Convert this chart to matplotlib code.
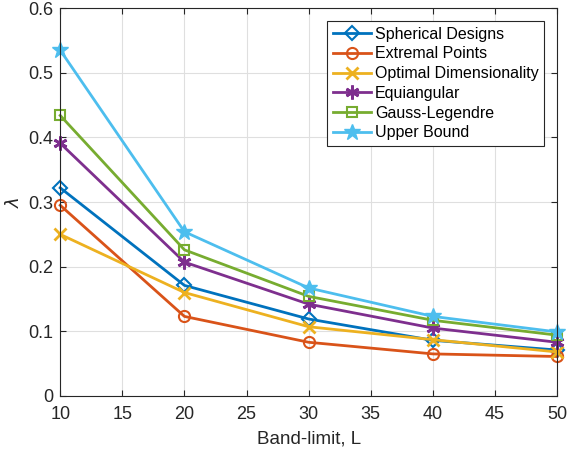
import matplotlib
matplotlib.use('Agg')
import matplotlib.pyplot as plt

plt.rcParams['font.family'] = ['Liberation Sans', 'DejaVu Sans']

# band-limit values
band_limit = [10, 20, 30, 40, 50]

# lambda for each construction
spherical_designs = [0.322, 0.171, 0.119, 0.086, 0.071]
extremal_points = [0.295, 0.123, 0.083, 0.065, 0.061]
optimal_dim = [0.250, 0.160, 0.107, 0.087, 0.068]
equiangular = [0.391, 0.207, 0.142, 0.105, 0.083]
gauss_legendre = [0.434, 0.226, 0.154, 0.117, 0.094]
upper_bound = [0.535, 0.254, 0.167, 0.123, 0.099]

labels = ['Spherical Designs', 'Extremal Points', 'Optimal Dimensionality',
          'Equiangular', 'Gauss-Legendre', 'Upper Bound']

fig = plt.figure(figsize=(5.68, 4.53), dpi=100)
ax = fig.add_axes([0.106, 0.126, 0.875, 0.856])

ax.plot(band_limit, spherical_designs, color='#0072BD', marker='D', markersize=7,
        markerfacecolor='none', markeredgewidth=1.5, linewidth=2, label=labels[0], clip_on=False)
ax.plot(band_limit, extremal_points, color='#D95319', marker='o', markersize=8,
        markerfacecolor='none', markeredgewidth=1.5, linewidth=2, label=labels[1], clip_on=False)
ax.plot(band_limit, optimal_dim, color='#EDB120', marker='x', markersize=8,
        markeredgewidth=2, linewidth=2, label=labels[2], clip_on=False)
ax.plot(band_limit, equiangular, color='#7E2F8E', marker=(6, 2, 0), markersize=10,
        markeredgewidth=2, linewidth=2, label=labels[3], clip_on=False)
ax.plot(band_limit, gauss_legendre, color='#77AC30', marker='s', markersize=7,
        markerfacecolor='none', markeredgewidth=1.5, linewidth=2, label=labels[4], clip_on=False)
ax.plot(band_limit, upper_bound, color='#4DBEEE', marker='*', markersize=12,
        linewidth=2, label=labels[5], clip_on=False)

ax.set_xlim(10, 50)
ax.set_ylim(0, 0.6)
ax.set_xticks(range(10, 51, 5))
ax.set_yticks([0, 0.1, 0.2, 0.3, 0.4, 0.5, 0.6])
ax.set_yticklabels(['0', '0.1', '0.2', '0.3', '0.4', '0.5', '0.6'])
ax.grid(True, color='#DFDFDF', linewidth=0.8)
ax.set_axisbelow(True)
ax.tick_params(direction='in', top=True, right=True, labelsize=13,
               colors='#262626', length=4)
ax.tick_params(axis='x', pad=7)
ax.tick_params(axis='y', pad=5)
for s in ax.spines.values():
    s.set_color('#262626')
    s.set_linewidth(0.8)

ax.set_xlabel('Band-limit, L', fontsize=13.5, color='#262626', labelpad=6)
ax.set_ylabel(r'$\lambda$', fontsize=13, color='#262626', labelpad=4)

leg = ax.legend(loc='upper right', fontsize=11.5, fancybox=False, framealpha=1,
                edgecolor='#262626', handlelength=2.4, borderpad=0.35,
                labelspacing=0.3, handletextpad=0.25, borderaxespad=0.8)
leg.get_frame().set_linewidth(0.8)

fig.savefig('out.png', dpi=100)
